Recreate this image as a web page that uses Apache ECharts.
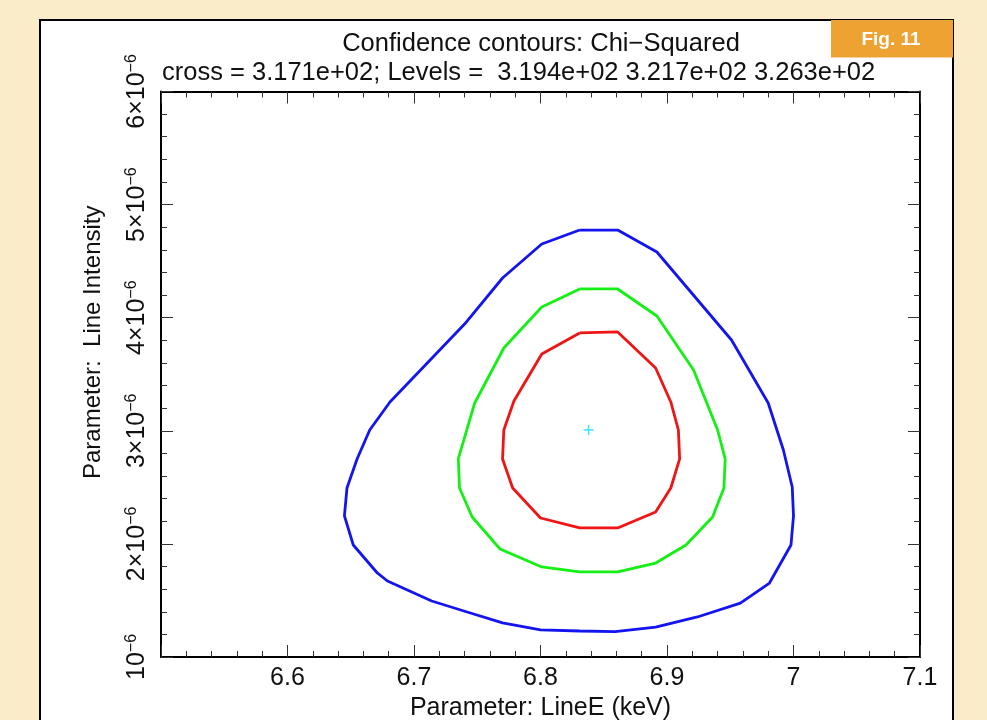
<!DOCTYPE html>
<html>
<head>
<meta charset="utf-8">
<script src="https://cdn.jsdelivr.net/npm/echarts@6/dist/echarts.min.js"></script>
<style>
html,body{margin:0;padding:0;background:#FBECC9;}
#chart{width:987px;height:720px;}
</style>
</head>
<body>
<div id="chart"></div>
<script>
// Line energy (keV) and line intensity (units of 1e-6) for each contour
const blueX = [6.831,6.861,6.892,6.951,6.980,6.992,6.999,7.000,6.998,6.981,6.958,6.924,6.891,6.859,6.831,6.800,6.770,6.742,6.714,6.679,6.671,6.652,6.645,6.647,6.655,6.665,6.681,6.740,6.770,6.801,6.831];
const blueY = [4.775,4.775,4.581,3.803,3.246,2.830,2.503,2.247,1.990,1.654,1.477,1.354,1.265,1.225,1.230,1.239,1.301,1.398,1.495,1.672,1.743,1.990,2.247,2.494,2.751,3.007,3.255,3.944,4.351,4.652,4.775];
const greenX = [6.831,6.861,6.892,6.921,6.940,6.946,6.945,6.936,6.915,6.891,6.861,6.831,6.801,6.768,6.746,6.736,6.735,6.748,6.771,6.801,6.831];
const greenY = [4.254,4.254,4.015,3.538,3.007,2.751,2.494,2.238,1.990,1.831,1.752,1.752,1.796,1.955,2.238,2.494,2.751,3.246,3.732,4.095,4.254];
const redX = [6.831,6.861,6.891,6.903,6.909,6.910,6.903,6.891,6.861,6.831,6.800,6.778,6.770,6.771,6.779,6.801,6.831];
const redY = [3.865,3.874,3.555,3.255,3.007,2.751,2.494,2.282,2.141,2.141,2.229,2.494,2.751,3.007,3.263,3.679,3.865];
const crossPoint = [6.838, 3.007];

const xTicks = [6.5, 6.6, 6.7, 6.8, 6.9, 7.0, 7.1];
const yTicks = [1, 2, 3, 4, 5, 6];

const titleText = 'Confidence contours: Chi\u2212Squared';
const subText = 'cross = 3.171e+02; Levels =  3.194e+02 3.217e+02 3.263e+02';
const xName = 'Parameter: LineE (keV)';
const yName = 'Parameter:  Line Intensity';
const figLabel = 'Fig. 11';

const FONT = 'Liberation Sans, Arial, Helvetica, sans-serif';

function pairs(xs, ys) { return xs.map((x, i) => [x, ys[i]]); }

const chart = echarts.init(document.getElementById('chart'), null, {renderer: 'canvas'});

const tickCommon = {
  axisLine: {show: true, onZero: false, lineStyle: {color: '#000', width: 2}},
  axisTick: {show: true, inside: true, length: 12, lineStyle: {color: '#333', width: 1}},
  minorTick: {show: true, splitNumber: 5, length: 6, lineStyle: {color: '#333', width: 1}},
  splitLine: {show: false},
  minorSplitLine: {show: false}
};

const option = {
  backgroundColor: '#FBECC9',
  animation: false,
  grid: {left: 161, right: 67, top: 91.5, bottom: 63, containLabel: false, outerBoundsMode: 'none'},
  xAxis: [
    Object.assign({
      type: 'value', position: 'bottom', min: xTicks[0], max: xTicks[xTicks.length - 1], interval: 0.1,
      name: xName, nameLocation: 'middle', nameGap: 34,
      nameTextStyle: {fontFamily: FONT, fontSize: 25, color: '#111'},
      axisLabel: {show: true, margin: 9, fontFamily: FONT, fontSize: 25, color: '#111',
        showMinLabel: false,
        formatter: v => (Math.round(v * 10) / 10).toString()}
    }, tickCommon),
    Object.assign({
      type: 'value', position: 'top', min: xTicks[0], max: xTicks[xTicks.length - 1], interval: 0.1,
      axisLabel: {show: false}
    }, tickCommon)
  ],
  yAxis: [
    Object.assign({
      type: 'value', position: 'left', min: yTicks[0], max: yTicks[yTicks.length - 1], interval: 1,
      name: yName, nameLocation: 'middle', nameGap: 56,
      nameTextStyle: {fontFamily: FONT, fontSize: 24, color: '#111', padding: [0, 0, 0, 64]},
      axisLabel: {
        show: true, rotate: 90, margin: 11,
        formatter: v => (Math.round(v) === 1 ? '{n|10}{s|\u22126}' : '{n|' + Math.round(v) + '\u00d710}{s|\u22126}'),
        rich: {
          n: {fontFamily: FONT, fontSize: 25, color: '#111', lineHeight: 26, verticalAlign: 'bottom'},
          s: {fontFamily: FONT, fontSize: 16, color: '#111', lineHeight: 26, verticalAlign: 'top'}
        }
      }
    }, tickCommon),
    Object.assign({
      type: 'value', position: 'right', min: yTicks[0], max: yTicks[yTicks.length - 1], interval: 1,
      axisLabel: {show: false}
    }, tickCommon)
  ],
  series: [
    {type: 'line', name: 'outer', data: pairs(blueX, blueY), showSymbol: false, symbol: 'none',
      lineStyle: {color: '#1414f0', width: 2.8}, z: 3},
    {type: 'line', name: 'middle', data: pairs(greenX, greenY), showSymbol: false, symbol: 'none',
      lineStyle: {color: '#14f014', width: 2.8}, z: 3},
    {type: 'line', name: 'inner', data: pairs(redX, redY), showSymbol: false, symbol: 'none',
      lineStyle: {color: '#f01414', width: 2.8}, z: 3},
    {type: 'scatter', name: 'best fit', data: [crossPoint],
      symbol: 'path://M0,5L10,5M5,0L5,10', symbolSize: 10,
      itemStyle: {color: 'rgba(0,0,0,0)', borderColor: '#00e0ff', borderWidth: 1.4}, z: 4}
  ],
  graphic: [
    {type: 'rect', z: -10, silent: true,
      shape: {x: 40, y: 20, width: 913, height: 720},
      style: {fill: '#ffffff', stroke: '#000', lineWidth: 2}},
    {type: 'rect', z: 10, silent: true,
      shape: {x: 831, y: 20, width: 122, height: 37.5},
      style: {fill: '#EDA232'}},
    {type: 'text', z: 11, silent: true, x: 891, y: 40,
      style: {text: figLabel, fill: '#fff', font: 'bold 19px ' + FONT, textAlign: 'center', textVerticalAlign: 'middle'}},
    {type: 'text', z: 11, silent: true, x: 541, y: 44,
      style: {text: titleText, fill: '#111', font: '25.5px ' + FONT, textAlign: 'center', textVerticalAlign: 'middle'}},
    {type: 'text', z: 11, silent: true, x: 162, y: 73,
      style: {text: subText, fill: '#111', font: '25.5px ' + FONT, textAlign: 'left', textVerticalAlign: 'middle'}}
  ]
};

chart.setOption(option);
</script>
</body>
</html>
